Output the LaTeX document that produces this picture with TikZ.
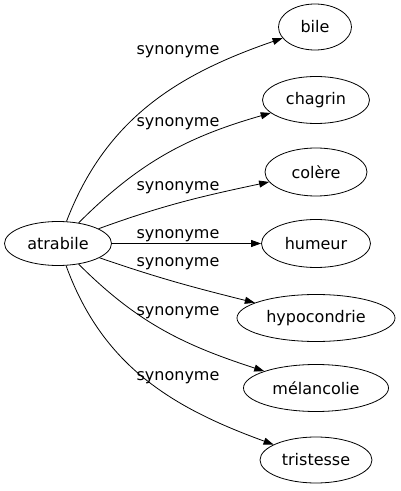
\documentclass[tikz,border=0pt]{standalone}
\usepackage{fontspec}
\setmainfont{DejaVu Sans}
\usetikzlibrary{arrows.meta,shapes.geometric}
\tikzset{
  word/.style={draw, ellipse, line width=0.8pt, inner sep=0pt, font=\fontsize{16}{19}\selectfont},
  synlab/.style={anchor=base, inner sep=0pt, font=\fontsize{16}{19}\selectfont},
  arrow/.style={-{Triangle[length=10pt,width=7pt]}, line width=0.8pt},
}

\begin{document}
\begin{tikzpicture}[x=1pt, y=1pt]
\useasboundingbox (0,0) rectangle (400,491);
\node[word, minimum width=107pt, minimum height=44pt] (atrabile) at (58,247.5) {atrabile};
\node[word, minimum width=73pt, minimum height=46pt] (bile) at (315,464) {bile};
\node[word, minimum width=107pt, minimum height=47pt] (chagrin) at (316,391) {chagrin};
\node[word, minimum width=102pt, minimum height=48pt] (colere) at (316,319) {colère};
\node[word, minimum width=109pt, minimum height=48pt] (humeur) at (316,247.5) {humeur};
\node[word, minimum width=158pt, minimum height=47pt] (hypocondrie) at (316,173) {hypocondrie};
\node[word, minimum width=145pt, minimum height=47pt] (melancolie) at (316,103) {mélancolie};
\node[word, minimum width=112pt, minimum height=46pt] (tristesse) at (316,31) {tristesse};
% edges
\draw[arrow] (atrabile) to[out=69, in=199] (bile);
\draw[arrow] (atrabile) to[out=45, in=196] (chagrin);
\draw[arrow] (atrabile) to[out=20, in=192] (colere);
\draw[arrow] (atrabile) -- (humeur);
\draw[arrow] (atrabile) to[out=-19, in=166] (hypocondrie);
\draw[arrow] (atrabile) to[out=-45, in=162] (melancolie);
\draw[arrow] (atrabile) to[out=-70, in=160] (tristesse);
% labels
\node[synlab] (l1) at (178,436.5) {synonyme};
\node[synlab] (l2) at (178,364.5) {synonyme};
\node[synlab] (l3) at (178,300.5) {synonyme};
\node[synlab] (l4) at (178,252) {synonyme};
\node[synlab] (l5) at (178,224) {synonyme};
\node[synlab] (l6) at (178,175.5) {synonyme};
\node[synlab] (l7) at (178,110.5) {synonyme};
\end{tikzpicture}
\end{document}
